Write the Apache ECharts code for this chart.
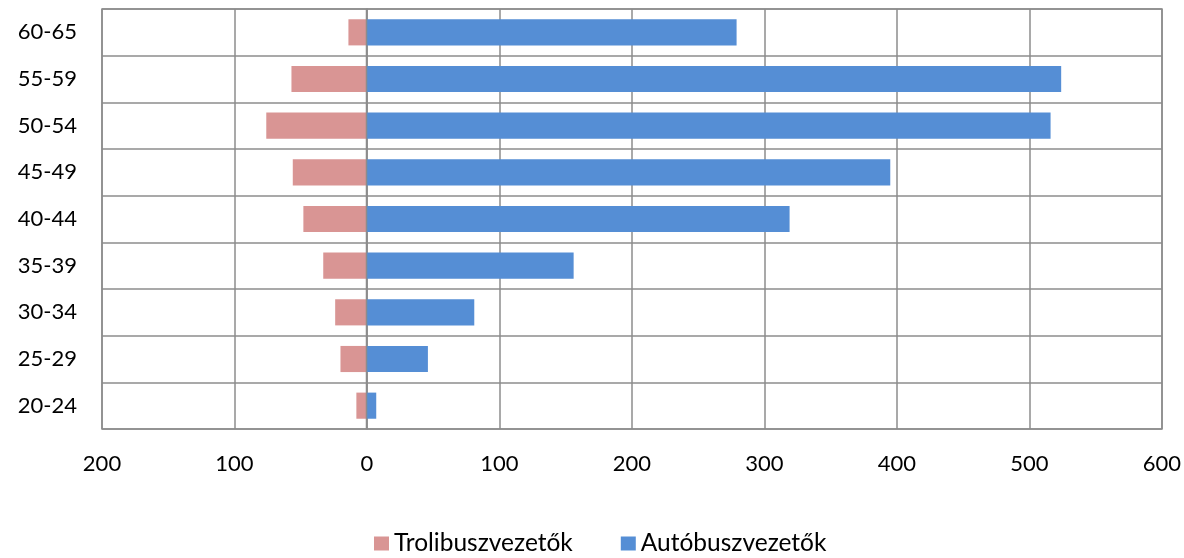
<!DOCTYPE html>
<html>
<head>
<meta charset="utf-8">
<script src="https://cdn.jsdelivr.net/npm/echarts@6/dist/echarts.min.js"></script>
<style>html,body{margin:0;padding:0;background:#fff}#c{width:1184px;height:558px}</style>
</head>
<body>
<div id="c"></div>
<script>
const categories = ['20-24','25-29','30-34','35-39','40-44','45-49','50-54','55-59','60-65'];
const troli = [8, 20, 24, 33, 48, 56, 76, 57, 14];
const auto = [7, 46, 81, 156, 319, 395, 516, 524, 279];
const seriesNames = ['Trolibuszvezetők', 'Autóbuszvezetők'];
const font = 'Lato, "Open Sans", sans-serif';

const chart = echarts.init(document.getElementById('c'));
chart.setOption({
  animation: false,
  grid: { left: 102, right: 22, top: 9, bottom: 129, containLabel: false },
  legend: {
    top: 531, left: 374, itemWidth: 15, itemHeight: 14, itemGap: 48,
    padding: 0,
    icon: 'rect',
    textStyle: { fontFamily: font, fontSize: 24.5, color: '#000' },
    data: seriesNames
  },
  xAxis: {
    type: 'value', min: -200, max: 600, interval: 100,
    axisLine: { show: false }, axisTick: { show: false },
    splitLine: { show: true, lineStyle: { color: '#8c8c8c', width: 1.5 } },
    axisLabel: { formatter: v => Math.abs(v), fontFamily: font, fontSize: 22, color: '#000', margin: 24 }
  },
  yAxis: {
    type: 'category', data: categories,
    axisLine: { show: true, lineStyle: { color: '#8c8c8c', width: 1.5 } },
    axisTick: { show: false },
    splitLine: { show: true, lineStyle: { color: '#8c8c8c', width: 1.5 } },
    axisLabel: { fontFamily: font, fontSize: 22, color: '#000', margin: 25 }
  },
  series: [
    {
      name: seriesNames[0], type: 'bar', stack: 'total', barWidth: '56%',
      itemStyle: { color: '#D99594' },
      data: troli.map(v => -v)
    },
    {
      name: seriesNames[1], type: 'bar', stack: 'total', barWidth: '56%',
      itemStyle: { color: '#558ED5' },
      data: auto
    }
  ],
  graphic: [{
    type: 'rect', z: 10, silent: true,
    shape: { x: 102, y: 9, width: 1060, height: 420 },
    style: { fill: 'none', stroke: '#8c8c8c', lineWidth: 1.5 }
  }, {
    type: 'line', z: 10, silent: true,
    shape: { x1: 366.5, y1: 9, x2: 366.5, y2: 429 },
    style: { stroke: '#8c8c8c', lineWidth: 1.5 }
  }]
});
</script>
</body>
</html>
